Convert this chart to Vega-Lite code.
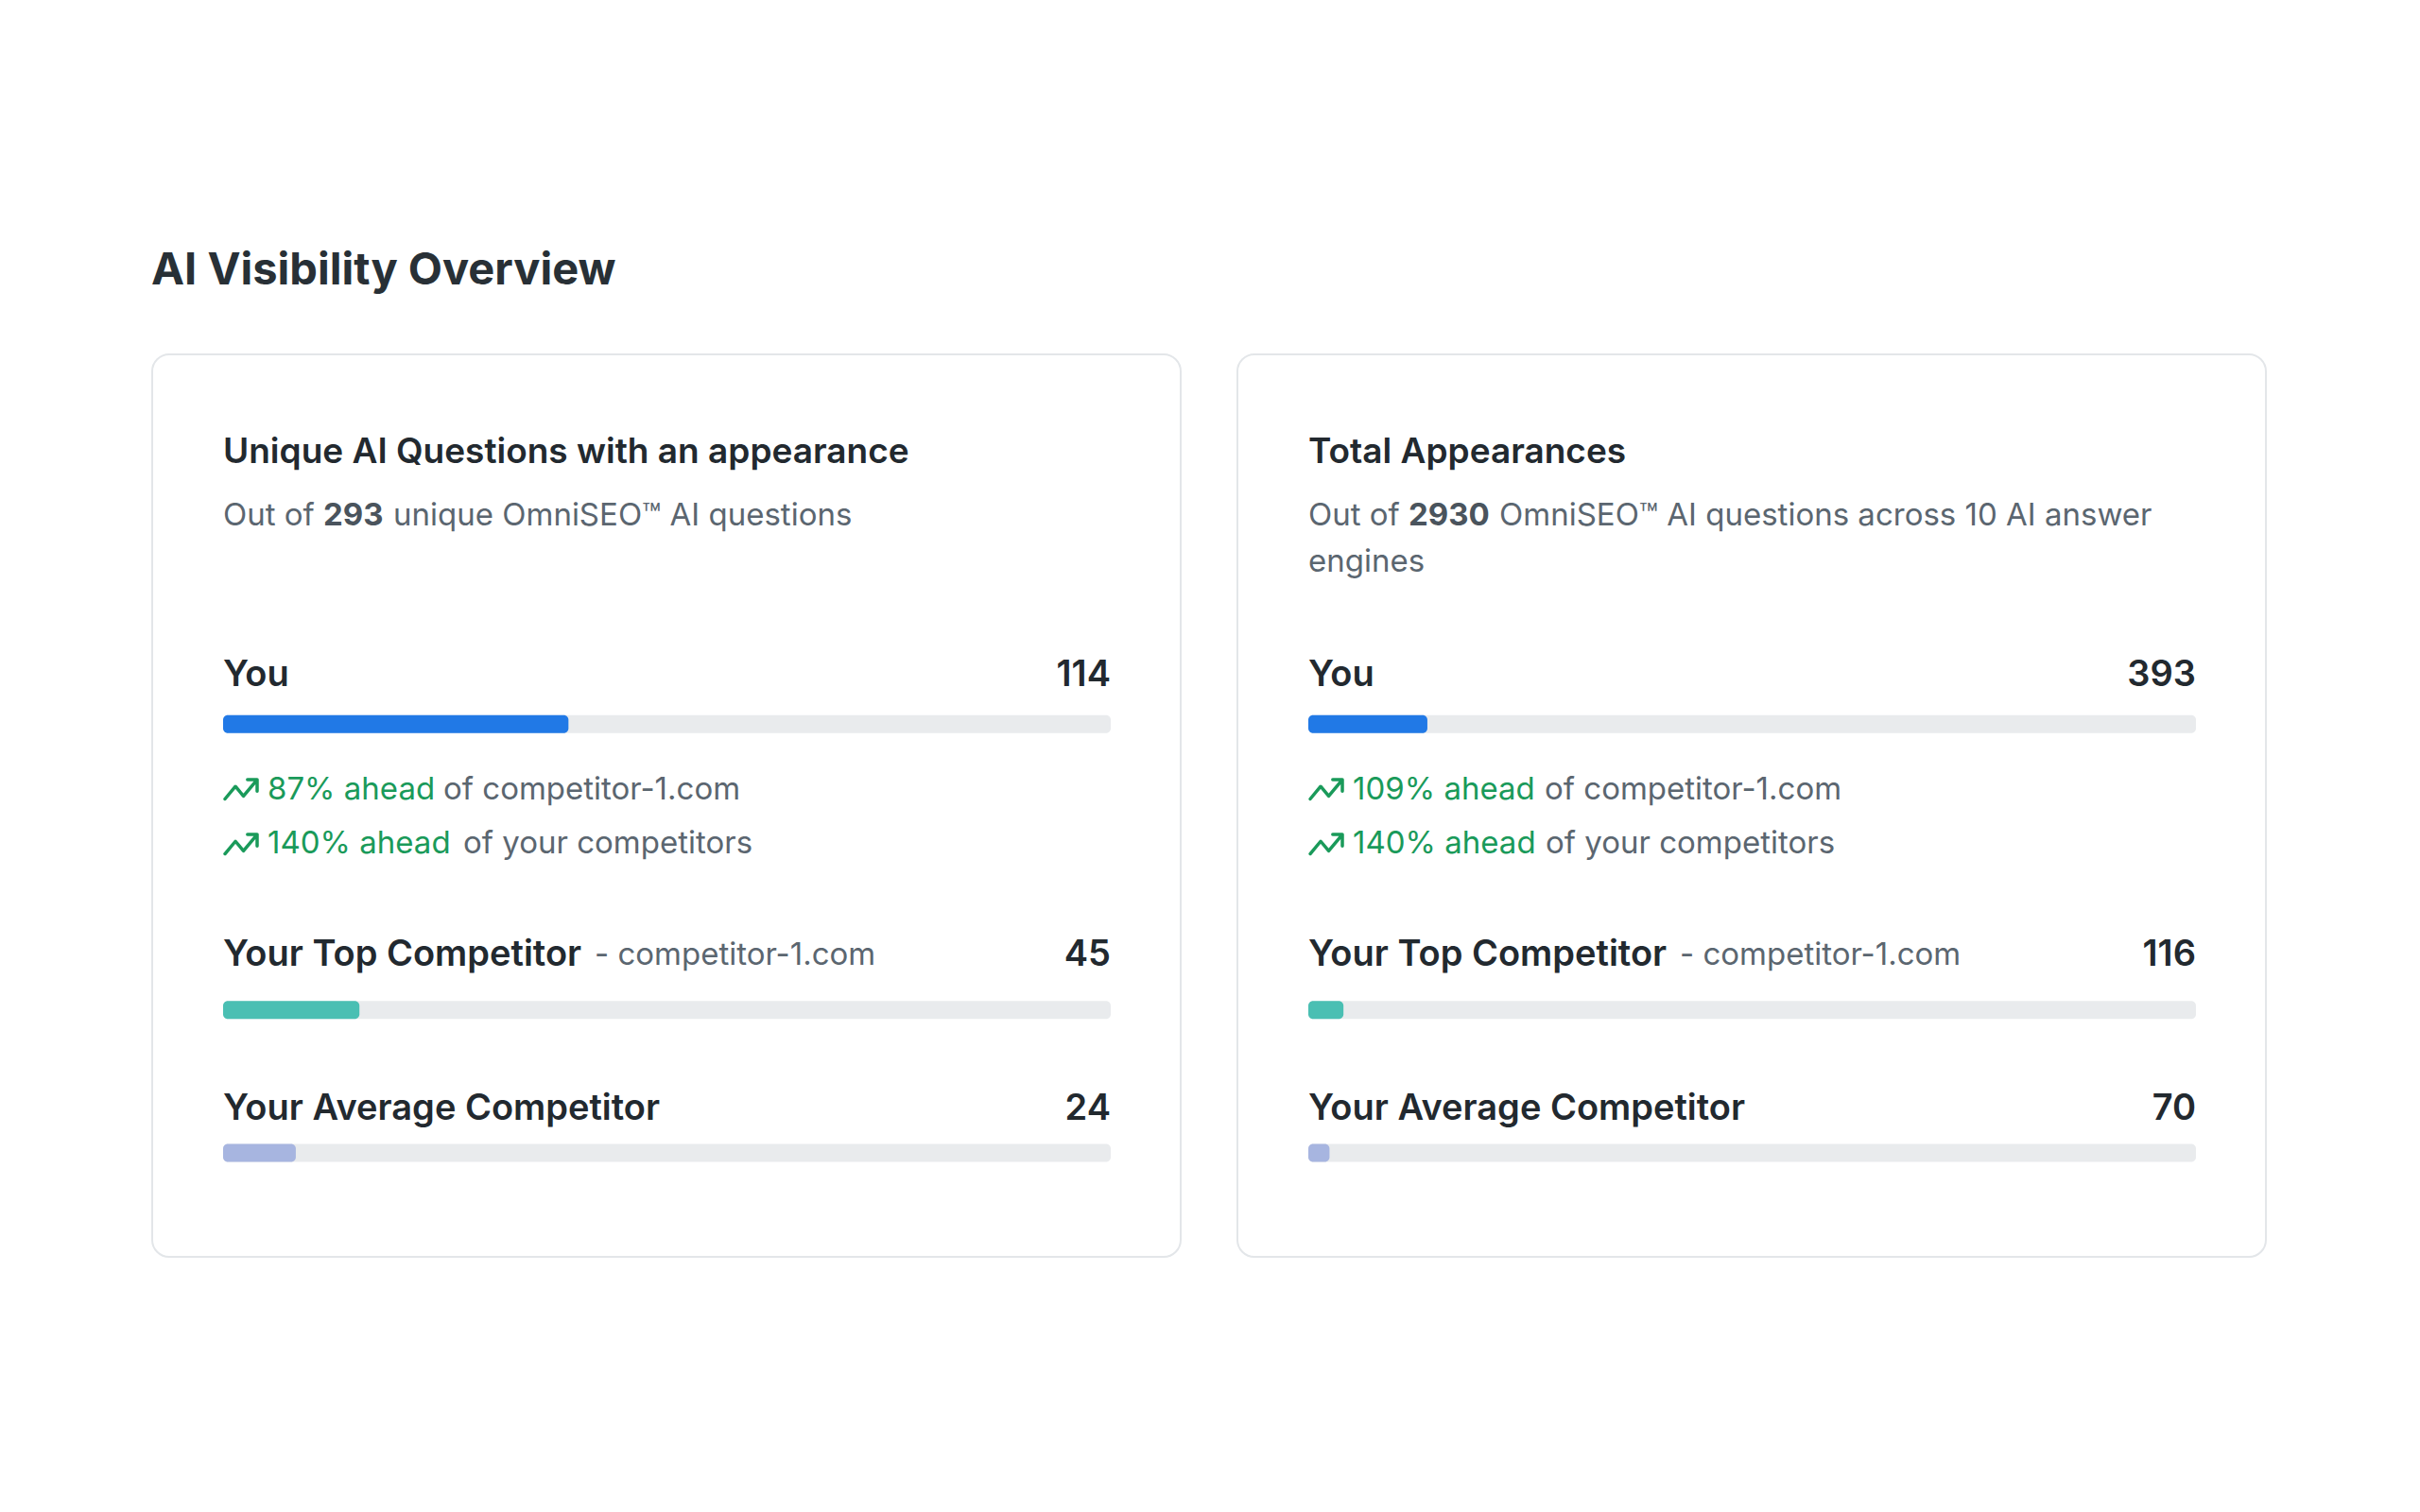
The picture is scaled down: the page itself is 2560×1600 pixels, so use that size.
{
  "$schema": "https://vega.github.io/schema/vega-lite/v6.json",
  "background": "white",
  "padding": {"left": 160, "top": 263, "right": 0, "bottom": 0},
  "autosize": {"type": "pad"},
  "title": {"text": "AI Visibility Overview", "anchor": "start", "fontSize": 47, "fontWeight": 700, "color": "#283036", "offset": 63, "font": "Inter"},
  "datasets": {
    "bars": [
      {"panel": "unique", "metric": "You", "label": "You", "note": "", "value": 114, "total": 293},
      {"panel": "unique", "metric": "Top", "label": "Your Top Competitor", "note": "- competitor-1.com", "value": 45, "total": 293},
      {"panel": "unique", "metric": "Avg", "label": "Your Average Competitor", "note": "", "value": 24, "total": 293},
      {"panel": "total", "metric": "You", "label": "You", "note": "", "value": 393, "total": 2930},
      {"panel": "total", "metric": "Top", "label": "Your Top Competitor", "note": "- competitor-1.com", "value": 116, "total": 2930},
      {"panel": "total", "metric": "Avg", "label": "Your Average Competitor", "note": "", "value": 70, "total": 2930}
    ],
    "ahead": [
      {"panel": "unique", "metric": "You", "line": 1, "lead": "87% ahead", "rest": "of competitor-1.com"},
      {"panel": "unique", "metric": "You", "line": 2, "lead": "140% ahead", "rest": "of your competitors"},
      {"panel": "total", "metric": "You", "line": 1, "lead": "109% ahead", "rest": "of competitor-1.com"},
      {"panel": "total", "metric": "You", "line": 2, "lead": "140% ahead", "rest": "of your competitors"}
    ],
    "headers": [
      {"panel": "unique", "title": "Unique AI Questions with an appearance", "pre": "Out of", "num": "293", "post": "unique OmniSEO™ AI questions", "post2": ""},
      {"panel": "total", "title": "Total Appearances", "pre": "Out of", "num": "2930", "post": "OmniSEO™ AI questions across 10 AI answer", "post2": "engines"}
    ]
  },
  "spacing": 58,
  "hconcat": [
    {
      "width": 1088,
      "height": 955,
      "layer": [
        {
          "data": {"name": "bars"},
          "transform": [{"filter": "datum.panel === 'unique'"}],
          "mark": {"type": "bar", "height": 19, "cornerRadius": 5, "color": "#e9ebed"},
          "encoding": {
            "y": {"field": "metric", "type": "nominal", "axis": null, "scale": {"type": "point", "domain": ["Header", "You", "gap", "Top", "Avg"], "range": [240, 845], "padding": 0}},
            "x": {"field": "total", "type": "quantitative", "axis": null, "scale": {"zero": true, "nice": false, "range": [75, 1014]}},
            "x2": {"datum": 0}
          }
        },
        {
          "data": {"name": "bars"},
          "transform": [{"filter": "datum.panel === 'unique'"}],
          "mark": {"type": "bar", "height": 19, "cornerRadius": 5},
          "encoding": {
            "y": {"field": "metric", "type": "nominal"},
            "x": {"field": "value", "type": "quantitative"},
            "x2": {"datum": 0},
            "color": {"field": "metric", "type": "nominal", "legend": null, "scale": {"domain": ["You", "Top", "Avg"], "range": ["#2179e6", "#4abfb3", "#a7b5e0"]}}
          }
        },
        {
          "data": {"name": "bars"},
          "transform": [{"filter": "datum.panel === 'unique' && datum.metric === 'You'"}],
          "mark": {"type": "text", "align": "left", "baseline": "middle", "dy": -51, "fontSize": 38, "fontWeight": 600, "color": "#22292f", "font": "Inter"},
          "encoding": {"y": {"field": "metric", "type": "nominal"}, "x": {"datum": 0}, "text": {"field": "label"}}
        },
        {
          "data": {"name": "bars"},
          "transform": [{"filter": "datum.panel === 'unique' && datum.metric === 'You'"}],
          "mark": {"type": "text", "align": "right", "baseline": "middle", "dy": -51, "fontSize": 38, "fontWeight": 600, "color": "#22292f", "font": "Inter"},
          "encoding": {"y": {"field": "metric", "type": "nominal"}, "x": {"field": "total", "type": "quantitative"}, "text": {"field": "value"}}
        },
        {
          "data": {"name": "bars"},
          "transform": [{"filter": "datum.panel === 'unique' && datum.metric === 'Top'"}],
          "mark": {"type": "text", "align": "left", "baseline": "middle", "dy": -58, "fontSize": 38, "fontWeight": 600, "color": "#22292f", "font": "Inter"},
          "encoding": {"y": {"field": "metric", "type": "nominal"}, "x": {"datum": 0}, "text": {"field": "label"}}
        },
        {
          "data": {"name": "bars"},
          "transform": [{"filter": "datum.panel === 'unique' && datum.metric === 'Top'"}],
          "mark": {"type": "text", "align": "left", "baseline": "middle", "dy": -58, "dx": 393, "fontSize": 33, "color": "#5b6670", "font": "Inter"},
          "encoding": {"y": {"field": "metric", "type": "nominal"}, "x": {"datum": 0}, "text": {"field": "note"}}
        },
        {
          "data": {"name": "bars"},
          "transform": [{"filter": "datum.panel === 'unique' && datum.metric === 'Top'"}],
          "mark": {"type": "text", "align": "right", "baseline": "middle", "dy": -58, "fontSize": 38, "fontWeight": 600, "color": "#22292f", "font": "Inter"},
          "encoding": {"y": {"field": "metric", "type": "nominal"}, "x": {"field": "total", "type": "quantitative"}, "text": {"field": "value"}}
        },
        {
          "data": {"name": "bars"},
          "transform": [{"filter": "datum.panel === 'unique' && datum.metric === 'Avg'"}],
          "mark": {"type": "text", "align": "left", "baseline": "middle", "dy": -46, "fontSize": 38, "fontWeight": 600, "color": "#22292f", "font": "Inter"},
          "encoding": {"y": {"field": "metric", "type": "nominal"}, "x": {"datum": 0}, "text": {"field": "label"}}
        },
        {
          "data": {"name": "bars"},
          "transform": [{"filter": "datum.panel === 'unique' && datum.metric === 'Avg'"}],
          "mark": {"type": "text", "align": "right", "baseline": "middle", "dy": -46, "fontSize": 38, "fontWeight": 600, "color": "#22292f", "font": "Inter"},
          "encoding": {"y": {"field": "metric", "type": "nominal"}, "x": {"field": "total", "type": "quantitative"}, "text": {"field": "value"}}
        },
        {
          "data": {"name": "ahead"},
          "transform": [{"filter": "datum.panel === 'unique' && datum.line === 1"}],
          "mark": {"type": "point", "shape": "M0.118,4.662L0.768,3.882L1.268,4.482L2.118,3.462M1.518,3.462L2.118,3.462L2.118,4.182", "size": 1156, "filled": false, "strokeWidth": 3.5, "strokeCap": "round", "strokeJoin": "round", "color": "#1a9a5a", "opacity": 1},
          "encoding": {"y": {"field": "metric", "type": "nominal"}, "x": {"datum": 0}}
        },
        {
          "data": {"name": "ahead"},
          "transform": [{"filter": "datum.panel === 'unique' && datum.line === 2"}],
          "mark": {"type": "point", "shape": "M0.118,8.074L0.768,7.294L1.268,7.894L2.118,6.874M1.518,6.874L2.118,6.874L2.118,7.594", "size": 1156, "filled": false, "strokeWidth": 3.5, "strokeCap": "round", "strokeJoin": "round", "color": "#1a9a5a", "opacity": 1},
          "encoding": {"y": {"field": "metric", "type": "nominal"}, "x": {"datum": 0}}
        },
        {
          "data": {"name": "ahead"},
          "transform": [{"filter": "datum.panel === 'unique' && datum.line === 1"}],
          "mark": {"type": "text", "align": "left", "baseline": "middle", "dx": 47, "dy": 70, "fontSize": 33, "color": "#1a9a5a", "font": "Inter"},
          "encoding": {"y": {"field": "metric", "type": "nominal"}, "x": {"datum": 0}, "text": {"field": "lead"}}
        },
        {
          "data": {"name": "ahead"},
          "transform": [{"filter": "datum.panel === 'unique' && datum.line === 2"}],
          "mark": {"type": "text", "align": "left", "baseline": "middle", "dx": 47, "dy": 127, "fontSize": 33, "color": "#1a9a5a", "font": "Inter"},
          "encoding": {"y": {"field": "metric", "type": "nominal"}, "x": {"datum": 0}, "text": {"field": "lead"}}
        },
        {
          "data": {"name": "ahead"},
          "transform": [{"filter": "datum.panel === 'unique' && datum.line === 1"}],
          "mark": {"type": "text", "align": "left", "baseline": "middle", "dx": 233, "dy": 70, "fontSize": 33, "color": "#5b6670", "font": "Inter"},
          "encoding": {"y": {"field": "metric", "type": "nominal"}, "x": {"datum": 0}, "text": {"field": "rest"}}
        },
        {
          "data": {"name": "ahead"},
          "transform": [{"filter": "datum.panel === 'unique' && datum.line === 2"}],
          "mark": {"type": "text", "align": "left", "baseline": "middle", "dx": 254, "dy": 127, "fontSize": 33, "color": "#5b6670", "font": "Inter"},
          "encoding": {"y": {"field": "metric", "type": "nominal"}, "x": {"datum": 0}, "text": {"field": "rest"}}
        },
        {
          "data": {"name": "headers"},
          "transform": [{"filter": "datum.panel === 'unique'"}],
          "mark": {"type": "text", "align": "left", "baseline": "middle", "dy": -136, "fontSize": 37, "fontWeight": 600, "color": "#22292f", "font": "Inter"},
          "encoding": {"y": {"datum": "Header"}, "x": {"datum": 0}, "text": {"field": "title"}}
        },
        {
          "data": {"name": "headers"},
          "transform": [{"filter": "datum.panel === 'unique'"}],
          "mark": {"type": "text", "align": "left", "baseline": "middle", "dy": -69, "fontSize": 33, "color": "#5b6670", "font": "Inter"},
          "encoding": {"y": {"datum": "Header"}, "x": {"datum": 0}, "text": {"field": "pre"}}
        },
        {
          "data": {"name": "headers"},
          "transform": [{"filter": "datum.panel === 'unique'"}],
          "mark": {"type": "text", "align": "left", "baseline": "middle", "dy": -69, "dx": 106, "fontSize": 33, "fontWeight": 700, "color": "#4a545d", "font": "Inter"},
          "encoding": {"y": {"datum": "Header"}, "x": {"datum": 0}, "text": {"field": "num"}}
        },
        {
          "data": {"name": "headers"},
          "transform": [{"filter": "datum.panel === 'unique'"}],
          "mark": {"type": "text", "align": "left", "baseline": "middle", "dy": -69, "dx": 180, "fontSize": 33, "color": "#5b6670", "font": "Inter"},
          "encoding": {"y": {"datum": "Header"}, "x": {"datum": 0}, "text": {"field": "post"}}
        }
      ]
    },
    {
      "width": 1088,
      "height": 955,
      "layer": [
        {
          "data": {"name": "bars"},
          "transform": [{"filter": "datum.panel === 'total'"}],
          "mark": {"type": "bar", "height": 19, "cornerRadius": 5, "color": "#e9ebed"},
          "encoding": {
            "y": {"field": "metric", "type": "nominal", "axis": null, "scale": {"type": "point", "domain": ["Header", "You", "gap", "Top", "Avg"], "range": [240, 845], "padding": 0}},
            "x": {"field": "total", "type": "quantitative", "axis": null, "scale": {"zero": true, "nice": false, "range": [75, 1014]}},
            "x2": {"datum": 0}
          }
        },
        {
          "data": {"name": "bars"},
          "transform": [{"filter": "datum.panel === 'total'"}],
          "mark": {"type": "bar", "height": 19, "cornerRadius": 5},
          "encoding": {
            "y": {"field": "metric", "type": "nominal"},
            "x": {"field": "value", "type": "quantitative"},
            "x2": {"datum": 0},
            "color": {"field": "metric", "type": "nominal", "legend": null, "scale": {"domain": ["You", "Top", "Avg"], "range": ["#2179e6", "#4abfb3", "#a7b5e0"]}}
          }
        },
        {
          "data": {"name": "bars"},
          "transform": [{"filter": "datum.panel === 'total' && datum.metric === 'You'"}],
          "mark": {"type": "text", "align": "left", "baseline": "middle", "dy": -51, "fontSize": 38, "fontWeight": 600, "color": "#22292f", "font": "Inter"},
          "encoding": {"y": {"field": "metric", "type": "nominal"}, "x": {"datum": 0}, "text": {"field": "label"}}
        },
        {
          "data": {"name": "bars"},
          "transform": [{"filter": "datum.panel === 'total' && datum.metric === 'You'"}],
          "mark": {"type": "text", "align": "right", "baseline": "middle", "dy": -51, "fontSize": 38, "fontWeight": 600, "color": "#22292f", "font": "Inter"},
          "encoding": {"y": {"field": "metric", "type": "nominal"}, "x": {"field": "total", "type": "quantitative"}, "text": {"field": "value"}}
        },
        {
          "data": {"name": "bars"},
          "transform": [{"filter": "datum.panel === 'total' && datum.metric === 'Top'"}],
          "mark": {"type": "text", "align": "left", "baseline": "middle", "dy": -58, "fontSize": 38, "fontWeight": 600, "color": "#22292f", "font": "Inter"},
          "encoding": {"y": {"field": "metric", "type": "nominal"}, "x": {"datum": 0}, "text": {"field": "label"}}
        },
        {
          "data": {"name": "bars"},
          "transform": [{"filter": "datum.panel === 'total' && datum.metric === 'Top'"}],
          "mark": {"type": "text", "align": "left", "baseline": "middle", "dy": -58, "dx": 393, "fontSize": 33, "color": "#5b6670", "font": "Inter"},
          "encoding": {"y": {"field": "metric", "type": "nominal"}, "x": {"datum": 0}, "text": {"field": "note"}}
        },
        {
          "data": {"name": "bars"},
          "transform": [{"filter": "datum.panel === 'total' && datum.metric === 'Top'"}],
          "mark": {"type": "text", "align": "right", "baseline": "middle", "dy": -58, "fontSize": 38, "fontWeight": 600, "color": "#22292f", "font": "Inter"},
          "encoding": {"y": {"field": "metric", "type": "nominal"}, "x": {"field": "total", "type": "quantitative"}, "text": {"field": "value"}}
        },
        {
          "data": {"name": "bars"},
          "transform": [{"filter": "datum.panel === 'total' && datum.metric === 'Avg'"}],
          "mark": {"type": "text", "align": "left", "baseline": "middle", "dy": -46, "fontSize": 38, "fontWeight": 600, "color": "#22292f", "font": "Inter"},
          "encoding": {"y": {"field": "metric", "type": "nominal"}, "x": {"datum": 0}, "text": {"field": "label"}}
        },
        {
          "data": {"name": "bars"},
          "transform": [{"filter": "datum.panel === 'total' && datum.metric === 'Avg'"}],
          "mark": {"type": "text", "align": "right", "baseline": "middle", "dy": -46, "fontSize": 38, "fontWeight": 600, "color": "#22292f", "font": "Inter"},
          "encoding": {"y": {"field": "metric", "type": "nominal"}, "x": {"field": "total", "type": "quantitative"}, "text": {"field": "value"}}
        },
        {
          "data": {"name": "ahead"},
          "transform": [{"filter": "datum.panel === 'total' && datum.line === 1"}],
          "mark": {"type": "point", "shape": "M0.118,4.662L0.768,3.882L1.268,4.482L2.118,3.462M1.518,3.462L2.118,3.462L2.118,4.182", "size": 1156, "filled": false, "strokeWidth": 3.5, "strokeCap": "round", "strokeJoin": "round", "color": "#1a9a5a", "opacity": 1},
          "encoding": {"y": {"field": "metric", "type": "nominal"}, "x": {"datum": 0}}
        },
        {
          "data": {"name": "ahead"},
          "transform": [{"filter": "datum.panel === 'total' && datum.line === 2"}],
          "mark": {"type": "point", "shape": "M0.118,8.074L0.768,7.294L1.268,7.894L2.118,6.874M1.518,6.874L2.118,6.874L2.118,7.594", "size": 1156, "filled": false, "strokeWidth": 3.5, "strokeCap": "round", "strokeJoin": "round", "color": "#1a9a5a", "opacity": 1},
          "encoding": {"y": {"field": "metric", "type": "nominal"}, "x": {"datum": 0}}
        },
        {
          "data": {"name": "ahead"},
          "transform": [{"filter": "datum.panel === 'total' && datum.line === 1"}],
          "mark": {"type": "text", "align": "left", "baseline": "middle", "dx": 47, "dy": 70, "fontSize": 33, "color": "#1a9a5a", "font": "Inter"},
          "encoding": {"y": {"field": "metric", "type": "nominal"}, "x": {"datum": 0}, "text": {"field": "lead"}}
        },
        {
          "data": {"name": "ahead"},
          "transform": [{"filter": "datum.panel === 'total' && datum.line === 2"}],
          "mark": {"type": "text", "align": "left", "baseline": "middle", "dx": 47, "dy": 127, "fontSize": 33, "color": "#1a9a5a", "font": "Inter"},
          "encoding": {"y": {"field": "metric", "type": "nominal"}, "x": {"datum": 0}, "text": {"field": "lead"}}
        },
        {
          "data": {"name": "ahead"},
          "transform": [{"filter": "datum.panel === 'total' && datum.line === 1"}],
          "mark": {"type": "text", "align": "left", "baseline": "middle", "dx": 250, "dy": 70, "fontSize": 33, "color": "#5b6670", "font": "Inter"},
          "encoding": {"y": {"field": "metric", "type": "nominal"}, "x": {"datum": 0}, "text": {"field": "rest"}}
        },
        {
          "data": {"name": "ahead"},
          "transform": [{"filter": "datum.panel === 'total' && datum.line === 2"}],
          "mark": {"type": "text", "align": "left", "baseline": "middle", "dx": 251, "dy": 127, "fontSize": 33, "color": "#5b6670", "font": "Inter"},
          "encoding": {"y": {"field": "metric", "type": "nominal"}, "x": {"datum": 0}, "text": {"field": "rest"}}
        },
        {
          "data": {"name": "headers"},
          "transform": [{"filter": "datum.panel === 'total'"}],
          "mark": {"type": "text", "align": "left", "baseline": "middle", "dy": -136, "fontSize": 37, "fontWeight": 600, "color": "#22292f", "font": "Inter"},
          "encoding": {"y": {"datum": "Header"}, "x": {"datum": 0}, "text": {"field": "title"}}
        },
        {
          "data": {"name": "headers"},
          "transform": [{"filter": "datum.panel === 'total'"}],
          "mark": {"type": "text", "align": "left", "baseline": "middle", "dy": -69, "fontSize": 33, "color": "#5b6670", "font": "Inter"},
          "encoding": {"y": {"datum": "Header"}, "x": {"datum": 0}, "text": {"field": "pre"}}
        },
        {
          "data": {"name": "headers"},
          "transform": [{"filter": "datum.panel === 'total'"}],
          "mark": {"type": "text", "align": "left", "baseline": "middle", "dy": -69, "dx": 106, "fontSize": 33, "fontWeight": 700, "color": "#4a545d", "font": "Inter"},
          "encoding": {"y": {"datum": "Header"}, "x": {"datum": 0}, "text": {"field": "num"}}
        },
        {
          "data": {"name": "headers"},
          "transform": [{"filter": "datum.panel === 'total'"}],
          "mark": {"type": "text", "align": "left", "baseline": "middle", "dy": -69, "dx": 202, "fontSize": 33, "color": "#5b6670", "font": "Inter"},
          "encoding": {"y": {"datum": "Header"}, "x": {"datum": 0}, "text": {"field": "post"}}
        },
        {
          "data": {"name": "headers"},
          "transform": [{"filter": "datum.panel === 'total'"}],
          "mark": {"type": "text", "align": "left", "baseline": "middle", "dy": -20, "fontSize": 33, "color": "#5b6670", "font": "Inter"},
          "encoding": {"y": {"datum": "Header"}, "x": {"datum": 0}, "text": {"field": "post2"}}
        }
      ]
    }
  ],
  "config": {
    "font": "Inter",
    "view": {"fill": "white", "stroke": "#e3e6e9", "strokeWidth": 2, "cornerRadius": 18}
  }
}
